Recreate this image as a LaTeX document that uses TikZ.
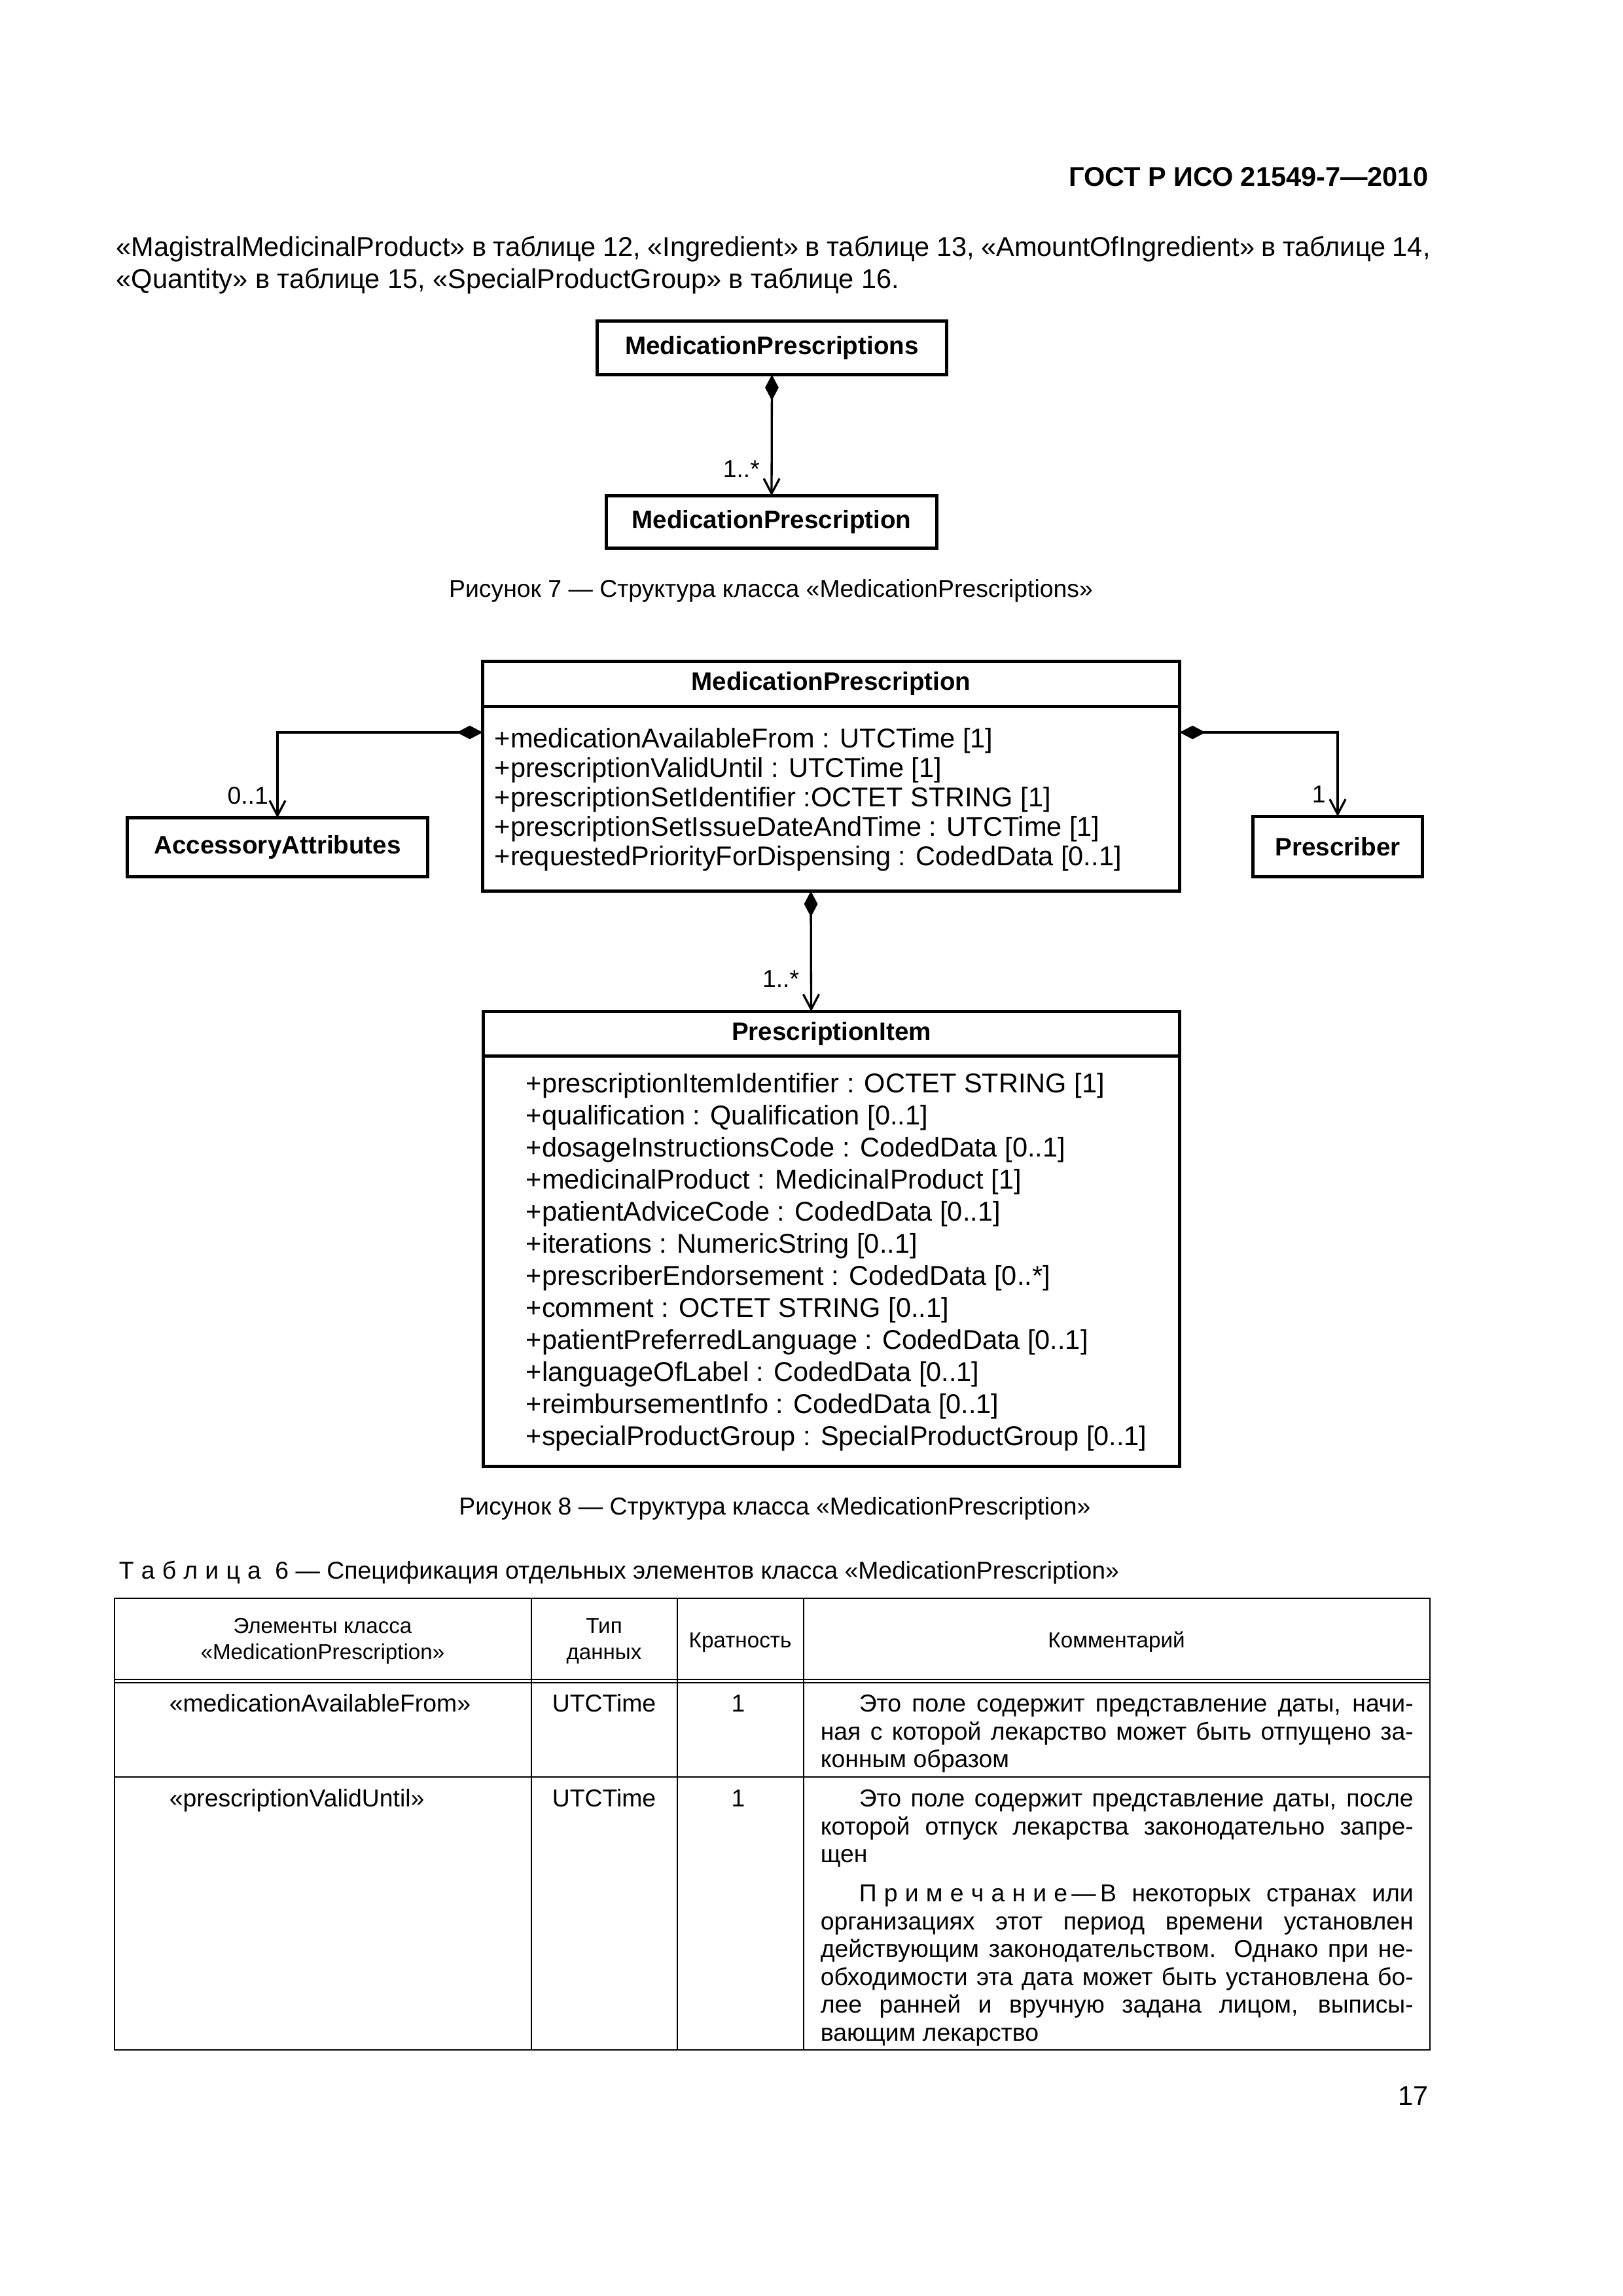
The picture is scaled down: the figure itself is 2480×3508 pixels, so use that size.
\documentclass[tikz,border=0pt]{standalone}
\usepackage{fontspec}
\setmainfont{Liberation Sans}
\usetikzlibrary{positioning,arrows.meta}

\newlength\upx
\setlength\upx{0.08467mm}
\newcommand\fs[2]{\fontsize{#1}{#2}\selectfont}
\newcommand\lsp{\kern0.3em}
% justified line of given width (in page pixels)
\newcommand\jline[2]{\makebox[#1\upx][s]{#2}}

\tikzset{
  classbox/.style={draw, line width=5\upx, inner sep=0pt, outer sep=0pt, font=\bfseries\fs{9.3}{11}},
  attr/.style={font=\fs{10}{12}, inner sep=0pt, anchor=base west},
  mult/.style={font=\fs{9}{10}, inner sep=0pt},
  compo/.style={line width=3.3\upx,
    {Diamond[length=9.5pt,width=5pt]}-{Straight Barb[length=5.5pt,width=5.8pt]}},
  caption/.style={font=\fs{9}{11}, inner sep=0pt, anchor=base},
  headcell/.style={font=\fs{8}{10}, inner sep=0pt, anchor=base},
  cell/.style={font=\fs{9}{10}, inner sep=0pt, anchor=base},
  txt/.style={font=\fs{9}{10}, inner sep=0pt, anchor=base west},
  rule/.style={line width=2.2\upx},
}

\begin{document}
\begin{tikzpicture}[x=\upx, y=-\upx]
\fill[white] (0,0) rectangle (2480,3508);
\useasboundingbox (0,0) rectangle (2480,3508);

% page head and text
\node[font=\bfseries\fs{10}{12}, inner sep=0pt, anchor=base east] (gost) at (2183,284) {ГОСТ Р ИСО 21549-7—2010};
\node[attr] (par1) at (177,391) {\jline{2008}{«MagistralMedicinalProduct» в таблице 12, «Ingredient» в таблице 13, «AmountOfIngredient» в таблице 14,}};
\node[attr] (par2) at (177,440) {«Quantity» в таблице 15, «SpecialProductGroup» в таблице 16.};

% figure 7
\node[classbox, minimum width=534\upx, minimum height=82\upx] (mps) at (1179.5,531.5) {MedicationPrescriptions};
\node[classbox, minimum width=505\upx, minimum height=80\upx] (mp) at (1179,797.5) {MedicationPrescription};
\draw[compo] (mps.south) -- (mp.north) node[mult, pos=0.78, anchor=east, xshift=-4pt] (m7) {1..*};
\node[caption] (cap7) at (1178,912) {Рисунок 7 — Структура класса «MedicationPrescriptions»};

% figure 8
\node[classbox, minimum width=1065\upx, minimum height=68.5\upx] (mph) at (1270,1044.75) {MedicationPrescription};
\node[classbox, minimum width=1065\upx, minimum height=282.5\upx, below=0pt of mph] (mpb) {};
\foreach \t [count=\i from 0] in {
  {+medicationAvailableFrom : UTCTime [1]},
  {+prescriptionValidUntil : UTCTime [1]},
  {+prescriptionSetIdentifier :OCTET STRING [1]},
  {+prescriptionSetIssueDateAndTime : UTCTime [1]},
  {+requestedPriorityForDispensing : CodedData [0..1]}}
  \node[attr] (mpa\i) at (755,{1142+45*\i}) {\t};

\node[classbox, minimum width=459\upx, minimum height=90\upx] (acc) at (424,1294.5) {AccessoryAttributes};
\node[classbox, minimum width=259\upx, minimum height=92\upx] (presc) at (2044,1293.5) {Prescriber};

\node[classbox, minimum width=1064\upx, minimum height=67.5\upx] (pih) at (1270.5,1579.25) {PrescriptionItem};
\node[classbox, minimum width=1064\upx, minimum height=627.5\upx, below=0pt of pih] (pib) {};
\foreach \t [count=\i from 0] in {
  {+prescriptionItemIdentifier : OCTET STRING [1]},
  {+qualification : Qualification [0..1]},
  {+dosageInstructionsCode : CodedData [0..1]},
  {+medicinalProduct : MedicinalProduct [1]},
  {+patientAdviceCode : CodedData [0..1]},
  {+iterations : NumericString [0..1]},
  {+prescriberEndorsement : CodedData [0..*]},
  {+comment : OCTET STRING [0..1]},
  {+patientPreferredLanguage : CodedData [0..1]},
  {+languageOfLabel : CodedData [0..1]},
  {+reimbursementInfo : CodedData [0..1]},
  {+specialProductGroup : SpecialProductGroup [0..1]}}
  \node[attr] (pia\i) at (803,{1669+49*\i}) {\t};

\draw[compo] ([yshift=-40\upx]mpb.north west) -| (acc.north) node[mult, pos=0.87, anchor=east, xshift=-3pt] (m8a) {0..1};
\draw[compo] ([yshift=-40\upx]mpb.north east) -| (presc.north) node[mult, pos=0.87, anchor=east, xshift=-4pt] (m8b) {1};
\draw[compo] ([xshift=-31\upx]mpb.south) -- ([xshift=-31\upx]pih.north) node[mult, pos=0.73, anchor=east, xshift=-4pt] (m8c) {1..*};
\node[caption] (cap8) at (1184,2314) {Рисунок 8 — Структура класса «MedicationPrescription»};

% table 6
\node[txt] (tcap) at (181,2412) {Т\lsp а\lsp б\lsp л\lsp и\lsp ц\lsp а\lsp\ 6 — Спецификация отдельных элементов класса «MedicationPrescription»};
\draw[rule] (175,2442) rectangle (2185,3132);
\draw[rule] (175,2566) -- (2185,2566);
\draw[rule] (175,2571) -- (2185,2571);
\draw[rule] (175,2715) -- (2185,2715);
\foreach \x in {812,1035,1228}
  \draw[rule] (\x,2442) -- (\x,3132);

\node[headcell] (h1a) at (493,2495) {Элементы класса};
\node[headcell] (h1b) at (493,2535) {«MedicationPrescription»};
\node[headcell] (h2a) at (923,2495) {Тип};
\node[headcell] (h2b) at (923,2535) {данных};
\node[headcell] (h3) at (1131,2517) {Кратность};
\node[headcell] (h4) at (1706,2517) {Комментарий};

\node[txt] (r1a) at (258,2615) {«medicationAvailableFrom»};
\node[cell] (r1b) at (923,2615) {UTCTime};
\node[cell] (r1c) at (1128,2615) {1};
\node[txt] (r1d1) at (1312,2615) {\jline{847}{Это поле содержит представление даты, начи-}};
\node[txt] (r1d2) at (1253,2658) {\jline{906}{ная с которой лекарство может быть отпущено за-}};
\node[txt] (r1d3) at (1253,2700) {конным образом};

\node[txt] (r2a) at (258,2760) {«prescriptionValidUntil»};
\node[cell] (r2b) at (923,2760) {UTCTime};
\node[cell] (r2c) at (1128,2760) {1};
\node[txt] (r2d1) at (1312,2760) {\jline{847}{Это поле содержит представление даты, после}};
\node[txt] (r2d2) at (1253,2803) {\jline{906}{которой отпуск лекарства законодательно запре-}};
\node[txt] (r2d3) at (1253,2845) {щен};
\node[txt] (n1) at (1312,2905) {\jline{847}{П\lsp р\lsp и\lsp м\lsp е\lsp ч\lsp а\lsp н\lsp и\lsp е\,—\,В некоторых странах или}};
\node[txt] (n2) at (1253,2948) {\jline{906}{организациях этот период времени установлен}};
\node[txt] (n3) at (1253,2990) {\jline{906}{действующим законодательством. Однако при не-}};
\node[txt] (n4) at (1253,3033) {\jline{906}{обходимости эта дата может быть установлена бо-}};
\node[txt] (n5) at (1253,3075) {\jline{906}{лее ранней и вручную задана лицом, выписы-}};
\node[txt] (n6) at (1253,3118) {вающим лекарство};

\node[font=\fs{10}{12}, inner sep=0pt, anchor=base east] (pgno) at (2183,3216) {17};
\end{tikzpicture}
\end{document}
